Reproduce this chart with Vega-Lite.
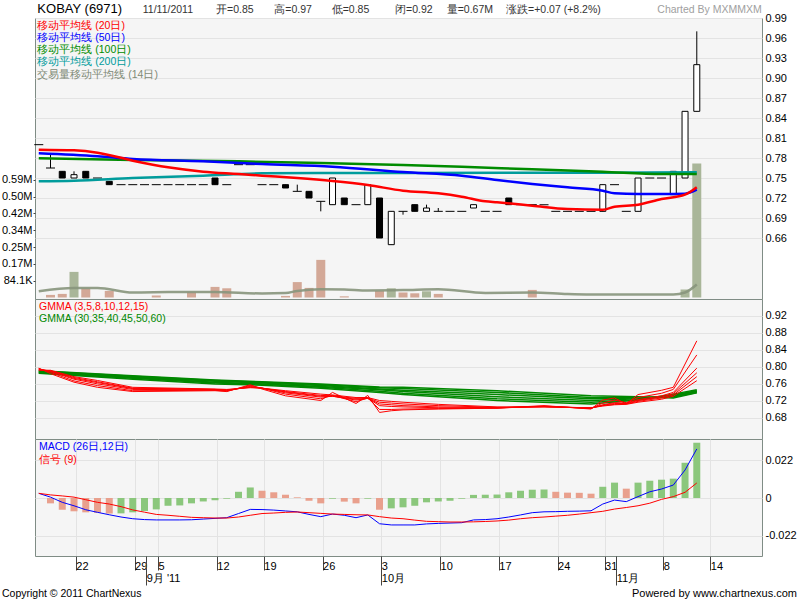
{
"$schema": "https://vega.github.io/schema/vega-lite/v6.json",
"background": "#ffffff",
"padding": {"left": 0, "top": 2, "right": 0, "bottom": 2},
"config": {
 "view": {"stroke": "#7f8c85", "strokeWidth": 1, "fill": "#f5f5f5"},
 "axis": {"gridColor": "#e3e3e3", "labelFont": "Liberation Sans", "labelFontSize": 11, "labelColor": "#000000", "tickColor": "#444444", "domain": false, "labelFlush": false, "labelOverlap": false},
 "scale": {"continuousPadding": 0},
 "text": {"font": "Liberation Sans"}
},
"spacing": 0,
"bounds": "flush",
"resolve": {"scale": {"x": "independent", "y": "independent"}},
"datasets": {
 "k": [
  {"i":-1,"o":0.80,"h":0.80,"l":0.80,"c":0.80,"v":0},
  {"i":0,"o":0.765,"h":0.785,"l":0.765,"c":0.765,"v":13000},
  {"i":1,"o":0.76,"h":0.76,"l":0.75,"c":0.75,"v":18000},
  {"i":2,"o":0.75,"h":0.76,"l":0.75,"c":0.755,"v":128000},
  {"i":3,"o":0.76,"h":0.76,"l":0.75,"c":0.75,"v":46000},
  {"i":4,"o":0.75,"h":0.75,"l":0.75,"c":0.75,"v":0},
  {"i":5,"o":0.745,"h":0.745,"l":0.74,"c":0.74,"v":33000},
  {"i":6,"o":0.74,"h":0.74,"l":0.74,"c":0.74,"v":0},
  {"i":7,"o":0.74,"h":0.74,"l":0.74,"c":0.74,"v":0},
  {"i":8,"o":0.74,"h":0.74,"l":0.74,"c":0.74,"v":0},
  {"i":9,"o":0.74,"h":0.74,"l":0.74,"c":0.74,"v":10000},
  {"i":10,"o":0.74,"h":0.74,"l":0.74,"c":0.74,"v":0},
  {"i":11,"o":0.74,"h":0.74,"l":0.74,"c":0.74,"v":0},
  {"i":12,"o":0.74,"h":0.74,"l":0.74,"c":0.74,"v":26000},
  {"i":13,"o":0.74,"h":0.74,"l":0.74,"c":0.74,"v":0},
  {"i":14,"o":0.75,"h":0.75,"l":0.74,"c":0.74,"v":53000},
  {"i":15,"o":0.74,"h":0.74,"l":0.74,"c":0.74,"v":46000},
  {"i":16,"o":0.77,"h":0.77,"l":0.77,"c":0.77,"v":0},
  {"i":17,"o":0.77,"h":0.77,"l":0.77,"c":0.77,"v":0},
  {"i":18,"o":0.74,"h":0.74,"l":0.74,"c":0.74,"v":0},
  {"i":19,"o":0.74,"h":0.74,"l":0.74,"c":0.74,"v":0},
  {"i":20,"o":0.74,"h":0.74,"l":0.735,"c":0.735,"v":8000},
  {"i":21,"o":0.73,"h":0.74,"l":0.73,"c":0.73,"v":77000},
  {"i":22,"o":0.73,"h":0.73,"l":0.72,"c":0.72,"v":48000},
  {"i":23,"o":0.715,"h":0.715,"l":0.70,"c":0.715,"v":188000},
  {"i":24,"o":0.71,"h":0.75,"l":0.71,"c":0.75,"v":0},
  {"i":25,"o":0.72,"h":0.72,"l":0.71,"c":0.71,"v":6000},
  {"i":26,"o":0.71,"h":0.71,"l":0.71,"c":0.71,"v":0},
  {"i":27,"o":0.71,"h":0.74,"l":0.71,"c":0.74,"v":0},
  {"i":28,"o":0.72,"h":0.72,"l":0.66,"c":0.66,"v":33000},
  {"i":29,"o":0.65,"h":0.70,"l":0.65,"c":0.70,"v":46000},
  {"i":30,"o":0.70,"h":0.70,"l":0.695,"c":0.70,"v":25000},
  {"i":31,"o":0.71,"h":0.71,"l":0.70,"c":0.70,"v":21000},
  {"i":32,"o":0.70,"h":0.71,"l":0.70,"c":0.705,"v":31000},
  {"i":33,"o":0.70,"h":0.705,"l":0.70,"c":0.70,"v":18000},
  {"i":34,"o":0.70,"h":0.70,"l":0.70,"c":0.70,"v":0},
  {"i":35,"o":0.70,"h":0.70,"l":0.70,"c":0.70,"v":0},
  {"i":36,"o":0.705,"h":0.71,"l":0.705,"c":0.71,"v":0},
  {"i":37,"o":0.70,"h":0.70,"l":0.70,"c":0.70,"v":0},
  {"i":38,"o":0.70,"h":0.70,"l":0.70,"c":0.70,"v":0},
  {"i":39,"o":0.72,"h":0.72,"l":0.71,"c":0.71,"v":0},
  {"i":40,"o":0.71,"h":0.71,"l":0.71,"c":0.71,"v":0},
  {"i":41,"o":0.71,"h":0.71,"l":0.71,"c":0.71,"v":38000},
  {"i":42,"o":0.71,"h":0.71,"l":0.71,"c":0.71,"v":0},
  {"i":43,"o":0.70,"h":0.70,"l":0.70,"c":0.70,"v":0},
  {"i":44,"o":0.70,"h":0.70,"l":0.70,"c":0.70,"v":0},
  {"i":45,"o":0.70,"h":0.70,"l":0.70,"c":0.70,"v":0},
  {"i":46,"o":0.70,"h":0.70,"l":0.70,"c":0.70,"v":0},
  {"i":47,"o":0.70,"h":0.74,"l":0.70,"c":0.74,"v":0},
  {"i":48,"o":0.74,"h":0.74,"l":0.74,"c":0.74,"v":0},
  {"i":49,"o":0.70,"h":0.70,"l":0.70,"c":0.70,"v":0},
  {"i":50,"o":0.70,"h":0.75,"l":0.70,"c":0.75,"v":0},
  {"i":51,"o":0.75,"h":0.75,"l":0.75,"c":0.75,"v":0},
  {"i":52,"o":0.75,"h":0.75,"l":0.75,"c":0.75,"v":0},
  {"i":53,"o":0.725,"h":0.76,"l":0.725,"c":0.76,"v":0},
  {"i":54,"o":0.75,"h":0.85,"l":0.75,"c":0.85,"v":40000},
  {"i":55,"o":0.85,"h":0.97,"l":0.85,"c":0.92,"v":670000}
 ],
 "vma": [
  {"i":-1,"v":31500},{"i":2,"v":48000},{"i":4,"v":48000},{"i":7,"v":25000},{"i":10,"v":27000},
  {"i":14,"v":28000},{"i":18,"v":20000},{"i":20,"v":22000},{"i":21,"v":33000},{"i":23,"v":41500},
  {"i":25,"v":40000},{"i":27,"v":35000},{"i":30,"v":37000},{"i":33,"v":41500},{"i":37,"v":23000},
  {"i":41,"v":25000},{"i":44,"v":17000},{"i":46,"v":15000},{"i":53,"v":15000},{"i":54,"v":25000},{"i":55,"v":65000}
 ],
 "ma": [
  {"s":"MA200","i":-1,"v":0.745},{"s":"MA200","i":2,"v":0.746},{"s":"MA200","i":7,"v":0.75},{"s":"MA200","i":13,"v":0.7535},{"s":"MA200","i":18,"v":0.757},{"s":"MA200","i":24,"v":0.7575},{"s":"MA200","i":30,"v":0.7575},{"s":"MA200","i":55,"v":0.7585},
  {"s":"MA100","i":-1,"v":0.7795},{"s":"MA100","i":7,"v":0.777},{"s":"MA100","i":16,"v":0.775},{"s":"MA100","i":24,"v":0.772},{"s":"MA100","i":30,"v":0.7695},{"s":"MA100","i":35,"v":0.767},{"s":"MA100","i":41,"v":0.763},{"s":"MA100","i":47,"v":0.7595},{"s":"MA100","i":52,"v":0.756},{"s":"MA100","i":55,"v":0.756},
  {"s":"MA50","i":-1,"v":0.787},{"s":"MA50","i":4,"v":0.7825},{"s":"MA50","i":7,"v":0.7785},{"s":"MA50","i":13,"v":0.775},{"s":"MA50","i":18,"v":0.771},{"s":"MA50","i":24,"v":0.767},{"s":"MA50","i":30,"v":0.759},{"s":"MA50","i":35,"v":0.7535},{"s":"MA50","i":38,"v":0.747},{"s":"MA50","i":41,"v":0.741},{"s":"MA50","i":44,"v":0.736},{"s":"MA50","i":47,"v":0.731},{"s":"MA50","i":48,"v":0.727},{"s":"MA50","i":50,"v":0.726},{"s":"MA50","i":52,"v":0.726},{"s":"MA50","i":54,"v":0.7265},{"s":"MA50","i":55,"v":0.7325},
  {"s":"MA20","i":-1,"v":0.7925},{"s":"MA20","i":2,"v":0.7915},{"s":"MA20","i":4,"v":0.788},{"s":"MA20","i":7,"v":0.776},{"s":"MA20","i":10,"v":0.766},{"s":"MA20","i":13,"v":0.7595},{"s":"MA20","i":16,"v":0.756},{"s":"MA20","i":18,"v":0.7535},{"s":"MA20","i":21,"v":0.75},{"s":"MA20","i":24,"v":0.7455},{"s":"MA20","i":27,"v":0.7395},{"s":"MA20","i":30,"v":0.731},{"s":"MA20","i":33,"v":0.727},{"s":"MA20","i":35,"v":0.722},{"s":"MA20","i":37,"v":0.715},{"s":"MA20","i":38,"v":0.7135},{"s":"MA20","i":41,"v":0.7085},{"s":"MA20","i":44,"v":0.7035},{"s":"MA20","i":47,"v":0.7025},{"s":"MA20","i":48,"v":0.707},{"s":"MA20","i":50,"v":0.71},{"s":"MA20","i":52,"v":0.7185},{"s":"MA20","i":54,"v":0.725},{"s":"MA20","i":55,"v":0.736}
 ],
 "gs": [
  {"i":-1,"e3":0.797,"e5":0.796,"e8":0.795,"e10":0.794,"e12":0.793,"e15":0.792},
  {"i":0,"e3":0.784,"e5":0.787,"e8":0.789,"e10":0.790,"e12":0.791,"e15":0.792},
  {"i":2,"e3":0.764,"e5":0.767,"e8":0.771,"e10":0.773,"e12":0.775,"e15":0.777},
  {"i":4,"e3":0.752,"e5":0.756,"e8":0.760,"e10":0.763,"e12":0.765,"e15":0.768},
  {"i":7,"e3":0.742,"e5":0.744,"e8":0.747,"e10":0.749,"e12":0.750,"e15":0.752},
  {"i":14,"e3":0.744,"e5":0.745,"e8":0.746,"e10":0.747,"e12":0.747,"e15":0.748},
  {"i":15,"e3":0.742,"e5":0.743,"e8":0.744,"e10":0.745,"e12":0.746,"e15":0.747},
  {"i":17,"e3":0.758,"e5":0.756,"e8":0.754,"e10":0.753,"e12":0.752,"e15":0.751},
  {"i":18,"e3":0.748,"e5":0.750,"e8":0.750,"e10":0.750,"e12":0.750,"e15":0.750},
  {"i":20,"e3":0.732,"e5":0.736,"e8":0.739,"e10":0.741,"e12":0.742,"e15":0.744},
  {"i":23,"e3":0.721,"e5":0.725,"e8":0.729,"e10":0.731,"e12":0.733,"e15":0.736},
  {"i":24,"e3":0.740,"e5":0.733,"e8":0.731,"e10":0.731,"e12":0.732,"e15":0.734},
  {"i":26,"e3":0.714,"e5":0.718,"e8":0.722,"e10":0.724,"e12":0.726,"e15":0.728},
  {"i":27,"e3":0.733,"e5":0.727,"e8":0.726,"e10":0.726,"e12":0.727,"e15":0.728},
  {"i":28,"e3":0.693,"e5":0.700,"e8":0.709,"e10":0.713,"e12":0.717,"e15":0.721},
  {"i":29,"e3":0.697,"e5":0.700,"e8":0.707,"e10":0.711,"e12":0.715,"e15":0.719},
  {"i":30,"e3":0.699,"e5":0.701,"e8":0.706,"e10":0.709,"e12":0.713,"e15":0.717},
  {"i":33,"e3":0.701,"e5":0.702,"e8":0.704,"e10":0.706,"e12":0.709,"e15":0.712},
  {"i":38,"e3":0.703,"e5":0.703,"e8":0.704,"e10":0.704,"e12":0.705,"e15":0.706},
  {"i":42,"e3":0.709,"e5":0.708,"e8":0.707,"e10":0.707,"e12":0.706,"e15":0.706},
  {"i":46,"e3":0.701,"e5":0.702,"e8":0.703,"e10":0.703,"e12":0.704,"e15":0.704},
  {"i":47,"e3":0.722,"e5":0.715,"e8":0.711,"e10":0.710,"e12":0.709,"e15":0.708},
  {"i":48,"e3":0.727,"e5":0.722,"e8":0.716,"e10":0.714,"e12":0.712,"e15":0.711},
  {"i":49,"e3":0.713,"e5":0.716,"e8":0.715,"e10":0.714,"e12":0.713,"e15":0.712},
  {"i":50,"e3":0.735,"e5":0.728,"e8":0.723,"e10":0.721,"e12":0.719,"e15":0.717},
  {"i":52,"e3":0.745,"e5":0.738,"e8":0.732,"e10":0.729,"e12":0.727,"e15":0.724},
  {"i":53,"e3":0.752,"e5":0.747,"e8":0.740,"e10":0.737,"e12":0.734,"e15":0.731},
  {"i":55,"e3":0.861,"e5":0.828,"e8":0.797,"e10":0.786,"e12":0.777,"e15":0.7675}
 ],
 "gl": [
  {"i":-1,"e30":0.785,"e35":0.786,"e40":0.787,"e45":0.789,"e50":0.790,"e60":0.791},
  {"i":7,"e30":0.771,"e35":0.773,"e40":0.775,"e45":0.776,"e50":0.778,"e60":0.779},
  {"i":14,"e30":0.760,"e35":0.762,"e40":0.764,"e45":0.766,"e50":0.768,"e60":0.769},
  {"i":18,"e30":0.757,"e35":0.759,"e40":0.760,"e45":0.762,"e50":0.764,"e60":0.765},
  {"i":23,"e30":0.750,"e35":0.752,"e40":0.754,"e45":0.756,"e50":0.758,"e60":0.760},
  {"i":28,"e30":0.740,"e35":0.743,"e40":0.746,"e45":0.748,"e50":0.751,"e60":0.753},
  {"i":30,"e30":0.735,"e35":0.738,"e40":0.742,"e45":0.745,"e50":0.749,"e60":0.752},
  {"i":38,"e30":0.721,"e35":0.725,"e40":0.730,"e45":0.735,"e50":0.740,"e60":0.744},
  {"i":46,"e30":0.713,"e35":0.717,"e40":0.721,"e45":0.725,"e50":0.728,"e60":0.732},
  {"i":50,"e30":0.722,"e35":0.723,"e40":0.725,"e45":0.727,"e50":0.728,"e60":0.730},
  {"i":53,"e30":0.736,"e35":0.734,"e40":0.732,"e45":0.731,"e50":0.729,"e60":0.727},
  {"i":55,"e30":0.746,"e35":0.744,"e40":0.743,"e45":0.742,"e50":0.740,"e60":0.739}
 ],
 "md": [
  {"i":-1,"m":0.0027,"s":0.0027},
  {"i":0,"m":0.0005,"s":0.0018,"h":-0.0031},
  {"i":1,"m":-0.0025,"s":0.0012,"h":-0.0068},
  {"i":2,"m":-0.0045,"s":0.0005,"h":-0.0077},
  {"i":3,"m":-0.0068,"s":-0.0010,"h":-0.0083},
  {"i":4,"m":-0.0083,"s":-0.0025,"h":-0.0086},
  {"i":5,"m":-0.0097,"s":-0.0035,"h":-0.0090},
  {"i":6,"m":-0.0110,"s":-0.0050,"h":-0.0089},
  {"i":7,"m":-0.0120,"s":-0.0069,"h":-0.0083},
  {"i":8,"m":-0.0125,"s":-0.0082,"h":-0.0075},
  {"i":9,"m":-0.0127,"s":-0.0095,"h":-0.0066},
  {"i":10,"m":-0.0127,"s":-0.0100,"h":-0.0045},
  {"i":11,"m":-0.0127,"s":-0.0106,"h":-0.0043},
  {"i":12,"m":-0.0126,"s":-0.0112,"h":-0.0031},
  {"i":13,"m":-0.0122,"s":-0.0114,"h":-0.0020},
  {"i":14,"m":-0.0118,"s":-0.0116,"h":-0.0013},
  {"i":15,"m":-0.0114,"s":-0.0116,"h":-0.0004},
  {"i":16,"m":-0.0090,"s":-0.0110,"h":0.0036},
  {"i":17,"m":-0.0066,"s":-0.0100,"h":0.0061},
  {"i":18,"m":-0.0067,"s":-0.0090,"h":0.0042},
  {"i":19,"m":-0.0070,"s":-0.0087,"h":0.0033},
  {"i":20,"m":-0.0075,"s":-0.0083,"h":0.0019},
  {"i":21,"m":-0.0080,"s":-0.0081,"h":0.0004},
  {"i":22,"m":-0.0095,"s":-0.0085,"h":-0.0016},
  {"i":23,"m":-0.0108,"s":-0.0089,"h":-0.0031},
  {"i":24,"m":-0.0093,"s":-0.0093,"h":-0.0004},
  {"i":25,"m":-0.0100,"s":-0.0095,"h":-0.0021},
  {"i":26,"m":-0.0114,"s":-0.0097,"h":-0.0031},
  {"i":27,"m":-0.0098,"s":-0.0098,"h":-0.0004},
  {"i":28,"m":-0.0149,"s":-0.0108,"h":-0.0068},
  {"i":29,"m":-0.0156,"s":-0.0116,"h":-0.0060},
  {"i":30,"m":-0.0156,"s":-0.0120,"h":-0.0054},
  {"i":31,"m":-0.0156,"s":-0.0128,"h":-0.0045},
  {"i":32,"m":-0.0150,"s":-0.0135,"h":-0.0025},
  {"i":33,"m":-0.0147,"s":-0.0137,"h":-0.0020},
  {"i":34,"m":-0.0145,"s":-0.0139,"h":-0.0016},
  {"i":35,"m":-0.0143,"s":-0.0139,"h":-0.0004},
  {"i":36,"m":-0.0127,"s":-0.0138,"h":0.0018},
  {"i":37,"m":-0.0125,"s":-0.0136,"h":0.0019},
  {"i":38,"m":-0.0120,"s":-0.0133,"h":0.0020},
  {"i":39,"m":-0.0110,"s":-0.0128,"h":0.0033},
  {"i":40,"m":-0.0098,"s":-0.0120,"h":0.0042},
  {"i":41,"m":-0.0085,"s":-0.0114,"h":0.0048},
  {"i":42,"m":-0.0080,"s":-0.0110,"h":0.0049},
  {"i":43,"m":-0.0079,"s":-0.0105,"h":0.0036},
  {"i":44,"m":-0.0077,"s":-0.0100,"h":0.0031},
  {"i":45,"m":-0.0076,"s":-0.0093,"h":0.0030},
  {"i":46,"m":-0.0074,"s":-0.0085,"h":0.0025},
  {"i":47,"m":-0.0035,"s":-0.0077,"h":0.0065},
  {"i":48,"m":-0.0012,"s":-0.0064,"h":0.0089},
  {"i":49,"m":-0.0021,"s":-0.0055,"h":0.0054},
  {"i":50,"m":0.0008,"s":-0.0045,"h":0.0089},
  {"i":51,"m":0.0036,"s":-0.0030,"h":0.0100},
  {"i":52,"m":0.0052,"s":-0.0008,"h":0.0106},
  {"i":53,"m":0.0075,"s":0.0008,"h":0.0112},
  {"i":54,"m":0.0162,"s":0.0033,"h":0.0204},
  {"i":55,"m":0.0284,"s":0.0087,"h":0.0320}
 ]
},
"vconcat": [
 {
  "width": 727, "height": 281,
  "resolve": {"scale": {"y": "independent"}},
  "layer": [
   {"layer": [
    {"data": {"name": "k"}, "mark": {"type": "bar", "size": 9, "orient": "vertical"},
     "encoding": {
      "x": {"field": "i", "type": "quantitative", "scale": {"domain": [-1.32, 60.55], "nice": false, "zero": false, "padding": 0}, "axis": {"values": [2.15,7.15,9.15,14.15,18.15,23.15,28.15,33.15,38.15,43.15,47.15,52.15,56.15], "grid": true, "labels": false, "ticks": false, "domain": false, "title": null}},
      "y": {"field": "v", "type": "quantitative", "scale": {"domain": [-7500, 1396700], "nice": false}, "axis": {"orient": "left", "values": [84100,168200,252300,336400,420500,504600,588700], "labelExpr": "datum.value < 100000 ? '84.1K' : format(datum.value / 1000000, '.2f') + 'M'", "grid": false, "tickSize": 2, "labelPadding": 1, "title": null}},
      "color": {"condition": {"test": "datum.c > datum.o", "value": "#a9b699"}, "value": "#d3a897"}}},
    {"data": {"name": "vma"}, "mark": {"type": "line", "interpolate": "monotone", "color": "#87957c", "strokeWidth": 2.5, "opacity": 0.9},
     "encoding": {
      "x": {"field": "i", "type": "quantitative", "scale": {"domain": [-1.32, 60.55], "nice": false, "zero": false, "padding": 0}, "axis": null},
      "y": {"field": "v", "type": "quantitative", "scale": {"domain": [-7500, 1396700], "nice": false}, "axis": {"orient": "left", "values": [84100,168200,252300,336400,420500,504600,588700], "labelExpr": "datum.value < 100000 ? '84.1K' : format(datum.value / 1000000, '.2f') + 'M'", "grid": false, "tickSize": 2, "labelPadding": 1, "title": null}}}}
   ]},
   {"layer": [
    {"data": {"name": "k"}, "transform": [{"filter": "datum.h > datum.l"}], "mark": {"type": "rule", "color": "#000000", "strokeWidth": 1},
     "encoding": {
      "x": {"field": "i", "type": "quantitative", "scale": {"domain": [-1.32, 60.55], "nice": false, "zero": false, "padding": 0}, "axis": null},
      "y": {"field": "l", "type": "quantitative", "scale": {"domain": [0.5685, 0.99], "nice": false, "zero": false, "padding": 0}, "axis": {"orient": "right", "values": [0.66,0.69,0.72,0.75,0.78,0.81,0.84,0.87,0.90,0.93,0.96,0.99], "format": ".2f", "grid": true, "ticks": false, "labelPadding": 3, "title": null}},
      "y2": {"field": "h"}}},
    {"data": {"name": "k"}, "transform": [{"filter": "datum.o != datum.c"}], "mark": {"type": "bar", "size": 6, "orient": "vertical", "stroke": "#000000", "strokeWidth": 1},
     "encoding": {
      "x": {"field": "i", "type": "quantitative", "scale": {"domain": [-1.32, 60.55], "nice": false, "zero": false, "padding": 0}, "axis": null},
      "y": {"field": "o", "type": "quantitative", "scale": {"domain": [0.5685, 0.99], "nice": false, "zero": false, "padding": 0}, "axis": {"orient": "right", "values": [0.66,0.69,0.72,0.75,0.78,0.81,0.84,0.87,0.90,0.93,0.96,0.99], "format": ".2f", "grid": true, "ticks": false, "labelPadding": 3, "title": null}},
      "y2": {"field": "c"},
      "fill": {"condition": {"test": "datum.c > datum.o", "value": "#ffffff"}, "value": "#000000"}}},
    {"data": {"name": "k"}, "transform": [{"filter": "datum.o == datum.c"}], "mark": {"type": "tick", "orient": "horizontal", "size": 9, "thickness": 1, "color": "#000000", "opacity": 1},
     "encoding": {
      "x": {"field": "i", "type": "quantitative", "scale": {"domain": [-1.32, 60.55], "nice": false, "zero": false, "padding": 0}, "axis": null},
      "y": {"field": "c", "type": "quantitative", "scale": {"domain": [0.5685, 0.99], "nice": false, "zero": false, "padding": 0}, "axis": {"orient": "right", "values": [0.66,0.69,0.72,0.75,0.78,0.81,0.84,0.87,0.90,0.93,0.96,0.99], "format": ".2f", "grid": true, "ticks": false, "labelPadding": 3, "title": null}}}},
    {"data": {"name": "ma"}, "mark": {"type": "line", "interpolate": "monotone", "strokeWidth": 2.5},
     "encoding": {
      "x": {"field": "i", "type": "quantitative", "scale": {"domain": [-1.32, 60.55], "nice": false, "zero": false, "padding": 0}, "axis": null},
      "y": {"field": "v", "type": "quantitative", "scale": {"domain": [0.5685, 0.99], "nice": false, "zero": false, "padding": 0}, "axis": {"orient": "right", "values": [0.66,0.69,0.72,0.75,0.78,0.81,0.84,0.87,0.90,0.93,0.96,0.99], "format": ".2f", "grid": true, "ticks": false, "labelPadding": 3, "title": null}},
      "stroke": {"field": "s", "type": "nominal", "scale": {"domain": ["MA200","MA100","MA50","MA20"], "range": ["#009c9c","#008c00","#0000ff","#ff0000"]}, "legend": null}}},
    {"data": {"values": [{}]}, "mark": {"type": "text", "fontSize": 13, "color": "#000000", "align": "left", "baseline": "middle"},
     "encoding": {"x": {"datum": -1.12, "type": "quantitative", "scale": {"domain": [-1.32, 60.55], "nice": false, "zero": false, "padding": 0}, "axis": null}, "y": {"datum": 1.0035, "type": "quantitative", "scale": {"domain": [0.5685, 0.99], "nice": false, "zero": false, "padding": 0}, "axis": {"orient": "right", "values": [0.66,0.69,0.72,0.75,0.78,0.81,0.84,0.87,0.90,0.93,0.96,0.99], "format": ".2f", "grid": true, "ticks": false, "labelPadding": 3, "title": null}}, "text": {"value": "KOBAY (6971)"}}},
    {"data": {"values": [{}]}, "mark": {"type": "text", "fontSize": 10.5, "color": "#333333", "align": "left", "baseline": "middle"},
     "encoding": {"x": {"datum": 7.85, "type": "quantitative", "scale": {"domain": [-1.32, 60.55], "nice": false, "zero": false, "padding": 0}, "axis": null}, "y": {"datum": 1.0025, "type": "quantitative", "scale": {"domain": [0.5685, 0.99], "nice": false, "zero": false, "padding": 0}, "axis": {"orient": "right", "values": [0.66,0.69,0.72,0.75,0.78,0.81,0.84,0.87,0.90,0.93,0.96,0.99], "format": ".2f", "grid": true, "ticks": false, "labelPadding": 3, "title": null}}, "text": {"value": "11/11/2011"}}},
    {"data": {"values": [{}]}, "mark": {"type": "text", "fontSize": 10.5, "color": "#333333", "align": "left", "baseline": "middle"},
     "encoding": {"x": {"datum": 14.09, "type": "quantitative", "scale": {"domain": [-1.32, 60.55], "nice": false, "zero": false, "padding": 0}, "axis": null}, "y": {"datum": 1.0025, "type": "quantitative", "scale": {"domain": [0.5685, 0.99], "nice": false, "zero": false, "padding": 0}, "axis": {"orient": "right", "values": [0.66,0.69,0.72,0.75,0.78,0.81,0.84,0.87,0.90,0.93,0.96,0.99], "format": ".2f", "grid": true, "ticks": false, "labelPadding": 3, "title": null}}, "text": {"value": "开=0.85"}}},
    {"data": {"values": [{}]}, "mark": {"type": "text", "fontSize": 10.5, "color": "#333333", "align": "left", "baseline": "middle"},
     "encoding": {"x": {"datum": 19.05, "type": "quantitative", "scale": {"domain": [-1.32, 60.55], "nice": false, "zero": false, "padding": 0}, "axis": null}, "y": {"datum": 1.0025, "type": "quantitative", "scale": {"domain": [0.5685, 0.99], "nice": false, "zero": false, "padding": 0}, "axis": {"orient": "right", "values": [0.66,0.69,0.72,0.75,0.78,0.81,0.84,0.87,0.90,0.93,0.96,0.99], "format": ".2f", "grid": true, "ticks": false, "labelPadding": 3, "title": null}}, "text": {"value": "高=0.97"}}},
    {"data": {"values": [{}]}, "mark": {"type": "text", "fontSize": 10.5, "color": "#333333", "align": "left", "baseline": "middle"},
     "encoding": {"x": {"datum": 23.93, "type": "quantitative", "scale": {"domain": [-1.32, 60.55], "nice": false, "zero": false, "padding": 0}, "axis": null}, "y": {"datum": 1.0025, "type": "quantitative", "scale": {"domain": [0.5685, 0.99], "nice": false, "zero": false, "padding": 0}, "axis": {"orient": "right", "values": [0.66,0.69,0.72,0.75,0.78,0.81,0.84,0.87,0.90,0.93,0.96,0.99], "format": ".2f", "grid": true, "ticks": false, "labelPadding": 3, "title": null}}, "text": {"value": "低=0.85"}}},
    {"data": {"values": [{}]}, "mark": {"type": "text", "fontSize": 10.5, "color": "#333333", "align": "left", "baseline": "middle"},
     "encoding": {"x": {"datum": 29.32, "type": "quantitative", "scale": {"domain": [-1.32, 60.55], "nice": false, "zero": false, "padding": 0}, "axis": null}, "y": {"datum": 1.0025, "type": "quantitative", "scale": {"domain": [0.5685, 0.99], "nice": false, "zero": false, "padding": 0}, "axis": {"orient": "right", "values": [0.66,0.69,0.72,0.75,0.78,0.81,0.84,0.87,0.90,0.93,0.96,0.99], "format": ".2f", "grid": true, "ticks": false, "labelPadding": 3, "title": null}}, "text": {"value": "闭=0.92"}}},
    {"data": {"values": [{}]}, "mark": {"type": "text", "fontSize": 10.5, "color": "#333333", "align": "left", "baseline": "middle"},
     "encoding": {"x": {"datum": 33.72, "type": "quantitative", "scale": {"domain": [-1.32, 60.55], "nice": false, "zero": false, "padding": 0}, "axis": null}, "y": {"datum": 1.0025, "type": "quantitative", "scale": {"domain": [0.5685, 0.99], "nice": false, "zero": false, "padding": 0}, "axis": {"orient": "right", "values": [0.66,0.69,0.72,0.75,0.78,0.81,0.84,0.87,0.90,0.93,0.96,0.99], "format": ".2f", "grid": true, "ticks": false, "labelPadding": 3, "title": null}}, "text": {"value": "量=0.67M"}}},
    {"data": {"values": [{}]}, "mark": {"type": "text", "fontSize": 10.5, "color": "#333333", "align": "left", "baseline": "middle"},
     "encoding": {"x": {"datum": 38.77, "type": "quantitative", "scale": {"domain": [-1.32, 60.55], "nice": false, "zero": false, "padding": 0}, "axis": null}, "y": {"datum": 1.0025, "type": "quantitative", "scale": {"domain": [0.5685, 0.99], "nice": false, "zero": false, "padding": 0}, "axis": {"orient": "right", "values": [0.66,0.69,0.72,0.75,0.78,0.81,0.84,0.87,0.90,0.93,0.96,0.99], "format": ".2f", "grid": true, "ticks": false, "labelPadding": 3, "title": null}}, "text": {"value": "涨跌=+0.07 (+8.2%)"}}},
    {"data": {"values": [{}]}, "mark": {"type": "text", "fontSize": 10.5, "color": "#a0a0a0", "align": "right", "baseline": "middle"},
     "encoding": {"x": {"datum": 60.53, "type": "quantitative", "scale": {"domain": [-1.32, 60.55], "nice": false, "zero": false, "padding": 0}, "axis": null}, "y": {"datum": 1.0025, "type": "quantitative", "scale": {"domain": [0.5685, 0.99], "nice": false, "zero": false, "padding": 0}, "axis": {"orient": "right", "values": [0.66,0.69,0.72,0.75,0.78,0.81,0.84,0.87,0.90,0.93,0.96,0.99], "format": ".2f", "grid": true, "ticks": false, "labelPadding": 3, "title": null}}, "text": {"value": "Charted By MXMMXM"}}},
    {"data": {"values": [{}]}, "mark": {"type": "text", "fontSize": 10.5, "color": "#ff0000", "align": "left", "baseline": "middle"},
     "encoding": {"x": {"datum": -1.12, "type": "quantitative", "scale": {"domain": [-1.32, 60.55], "nice": false, "zero": false, "padding": 0}, "axis": null}, "y": {"datum": 0.97845, "type": "quantitative", "scale": {"domain": [0.5685, 0.99], "nice": false, "zero": false, "padding": 0}, "axis": {"orient": "right", "values": [0.66,0.69,0.72,0.75,0.78,0.81,0.84,0.87,0.90,0.93,0.96,0.99], "format": ".2f", "grid": true, "ticks": false, "labelPadding": 3, "title": null}}, "text": {"value": "移动平均线 (20日)"}}},
    {"data": {"values": [{}]}, "mark": {"type": "text", "fontSize": 10.5, "color": "#0000ff", "align": "left", "baseline": "middle"},
     "encoding": {"x": {"datum": -1.12, "type": "quantitative", "scale": {"domain": [-1.32, 60.55], "nice": false, "zero": false, "padding": 0}, "axis": null}, "y": {"datum": 0.96015, "type": "quantitative", "scale": {"domain": [0.5685, 0.99], "nice": false, "zero": false, "padding": 0}, "axis": {"orient": "right", "values": [0.66,0.69,0.72,0.75,0.78,0.81,0.84,0.87,0.90,0.93,0.96,0.99], "format": ".2f", "grid": true, "ticks": false, "labelPadding": 3, "title": null}}, "text": {"value": "移动平均线 (50日)"}}},
    {"data": {"values": [{}]}, "mark": {"type": "text", "fontSize": 10.5, "color": "#008c00", "align": "left", "baseline": "middle"},
     "encoding": {"x": {"datum": -1.12, "type": "quantitative", "scale": {"domain": [-1.32, 60.55], "nice": false, "zero": false, "padding": 0}, "axis": null}, "y": {"datum": 0.9417, "type": "quantitative", "scale": {"domain": [0.5685, 0.99], "nice": false, "zero": false, "padding": 0}, "axis": {"orient": "right", "values": [0.66,0.69,0.72,0.75,0.78,0.81,0.84,0.87,0.90,0.93,0.96,0.99], "format": ".2f", "grid": true, "ticks": false, "labelPadding": 3, "title": null}}, "text": {"value": "移动平均线 (100日)"}}},
    {"data": {"values": [{}]}, "mark": {"type": "text", "fontSize": 10.5, "color": "#009c9c", "align": "left", "baseline": "middle"},
     "encoding": {"x": {"datum": -1.12, "type": "quantitative", "scale": {"domain": [-1.32, 60.55], "nice": false, "zero": false, "padding": 0}, "axis": null}, "y": {"datum": 0.9234, "type": "quantitative", "scale": {"domain": [0.5685, 0.99], "nice": false, "zero": false, "padding": 0}, "axis": {"orient": "right", "values": [0.66,0.69,0.72,0.75,0.78,0.81,0.84,0.87,0.90,0.93,0.96,0.99], "format": ".2f", "grid": true, "ticks": false, "labelPadding": 3, "title": null}}, "text": {"value": "移动平均线 (200日)"}}},
    {"data": {"values": [{}]}, "mark": {"type": "text", "fontSize": 10.5, "color": "#7e8a76", "align": "left", "baseline": "middle"},
     "encoding": {"x": {"datum": -1.12, "type": "quantitative", "scale": {"domain": [-1.32, 60.55], "nice": false, "zero": false, "padding": 0}, "axis": null}, "y": {"datum": 0.90495, "type": "quantitative", "scale": {"domain": [0.5685, 0.99], "nice": false, "zero": false, "padding": 0}, "axis": {"orient": "right", "values": [0.66,0.69,0.72,0.75,0.78,0.81,0.84,0.87,0.90,0.93,0.96,0.99], "format": ".2f", "grid": true, "ticks": false, "labelPadding": 3, "title": null}}, "text": {"value": "交易量移动平均线 (14日)"}}}
   ]}
  ]
 },
 {
  "width": 727, "height": 140,
  "layer": [
   {"data": {"name": "gl"}, "transform": [{"fold": ["e30","e35","e40","e45","e50","e60"], "as": ["s","v"]}], "mark": {"type": "line", "color": "#008800", "strokeWidth": 1.5},
    "encoding": {
     "x": {"field": "i", "type": "quantitative", "scale": {"domain": [-1.32, 60.55], "nice": false, "zero": false, "padding": 0}, "axis": {"values": [2.15,7.15,9.15,14.15,18.15,23.15,28.15,33.15,38.15,43.15,47.15,52.15,56.15], "grid": true, "labels": false, "ticks": false, "domain": false, "title": null}},
     "y": {"field": "v", "type": "quantitative", "scale": {"domain": [0.6307, 0.9592], "nice": false, "zero": false}, "axis": {"orient": "right", "values": [0.68,0.72,0.76,0.80,0.84,0.88,0.92], "format": ".2f", "grid": true, "ticks": false, "labelPadding": 3, "title": null}},
     "detail": {"field": "s", "type": "nominal"}}},
   {"data": {"name": "gs"}, "transform": [{"fold": ["e3","e5","e8","e10","e12","e15"], "as": ["s","v"]}], "mark": {"type": "line", "color": "#ff0000", "strokeWidth": 1},
    "encoding": {
     "x": {"field": "i", "type": "quantitative", "scale": {"domain": [-1.32, 60.55], "nice": false, "zero": false, "padding": 0}, "axis": null},
     "y": {"field": "v", "type": "quantitative", "scale": {"domain": [0.6307, 0.9592], "nice": false, "zero": false}, "axis": {"orient": "right", "values": [0.68,0.72,0.76,0.80,0.84,0.88,0.92], "format": ".2f", "grid": true, "ticks": false, "labelPadding": 3, "title": null}},
     "detail": {"field": "s", "type": "nominal"}}},
   {"data": {"values": [{}]}, "mark": {"type": "text", "fontSize": 10.5, "color": "#ff0000", "align": "left", "baseline": "middle"},
    "encoding": {"x": {"datum": -0.98, "type": "quantitative", "scale": {"domain": [-1.32, 60.55], "nice": false, "zero": false, "padding": 0}, "axis": null}, "y": {"datum": 0.9395, "type": "quantitative", "scale": {"domain": [0.6307, 0.9592], "nice": false, "zero": false}, "axis": {"orient": "right", "values": [0.68,0.72,0.76,0.80,0.84,0.88,0.92], "format": ".2f", "grid": true, "ticks": false, "labelPadding": 3, "title": null}}, "text": {"value": "GMMA (3,5,8,10,12,15)"}}},
   {"data": {"values": [{}]}, "mark": {"type": "text", "fontSize": 10.5, "color": "#008800", "align": "left", "baseline": "middle"},
    "encoding": {"x": {"datum": -0.98, "type": "quantitative", "scale": {"domain": [-1.32, 60.55], "nice": false, "zero": false, "padding": 0}, "axis": null}, "y": {"datum": 0.9113, "type": "quantitative", "scale": {"domain": [0.6307, 0.9592], "nice": false, "zero": false}, "axis": {"orient": "right", "values": [0.68,0.72,0.76,0.80,0.84,0.88,0.92], "format": ".2f", "grid": true, "ticks": false, "labelPadding": 3, "title": null}}, "text": {"value": "GMMA (30,35,40,45,50,60)"}}}
  ]
 },
 {
  "width": 727, "height": 117,
  "resolve": {"axis": {"x": "independent"}},
  "layer": [
   {"data": {"name": "md"}, "transform": [{"window": [{"op": "lag", "field": "h", "as": "hp"}], "sort": [{"field": "i"}]}, {"filter": "isValid(datum.h)"}],
    "mark": {"type": "bar", "size": 7, "orient": "vertical"},
    "encoding": {
     "x": {"field": "i", "type": "quantitative", "scale": {"domain": [-1.32, 60.55], "nice": false, "zero": false, "padding": 0}, "axis": {"orient": "bottom", "values": [2.15,7.15,9.15,14.15,18.15,23.15,28.15,33.15,38.15,43.15,47.15,52.15,56.15], "labelExpr": "['22','29','5','12','19','26','3','10','17','24','31','8','14'][indexof([2,7,9,14,18,23,28,33,38,43,47,52,56], floor(datum.value))]", "grid": true, "ticks": true, "tickSize": 14, "labelAlign": "left", "labelBaseline": "top", "labelPadding": -10, "labelDx": 2, "domain": false, "title": null}},
     "y": {"field": "h", "type": "quantitative", "scale": {"domain": [-0.03358, 0.03416], "nice": false}, "axis": {"orient": "right", "values": [-0.022, 0, 0.022], "labelExpr": "datum.value > 0.01 ? '0.022' : (datum.value < -0.01 ? '-0.022' : '0')", "grid": true, "ticks": false, "labelPadding": 3, "title": null}},
     "color": {"condition": {"test": "datum.h >= datum.hp", "value": "#8bc77c"}, "value": "#e9a08d"}}},
   {"data": {"name": "md"}, "mark": {"type": "line", "color": "#0000ff", "strokeWidth": 1},
    "encoding": {
     "x": {"field": "i", "type": "quantitative", "scale": {"domain": [-1.32, 60.55], "nice": false, "zero": false, "padding": 0}, "axis": {"orient": "bottom", "values": [8.15, 28.15, 48.15], "labelExpr": "floor(datum.value) == 8 ? \"9月 '11\" : (floor(datum.value) == 28 ? '10月' : '11月')", "grid": false, "ticks": true, "tickSize": 29, "labelAlign": "left", "labelBaseline": "top", "labelPadding": -13, "labelDx": 2, "domain": false, "title": null}},
     "y": {"field": "m", "type": "quantitative", "scale": {"domain": [-0.03358, 0.03416], "nice": false}, "axis": {"orient": "right", "values": [-0.022, 0, 0.022], "labelExpr": "datum.value > 0.01 ? '0.022' : (datum.value < -0.01 ? '-0.022' : '0')", "grid": true, "ticks": false, "labelPadding": 3, "title": null}}}},
   {"data": {"name": "md"}, "mark": {"type": "line", "color": "#ff0000", "strokeWidth": 1},
    "encoding": {
     "x": {"field": "i", "type": "quantitative", "scale": {"domain": [-1.32, 60.55], "nice": false, "zero": false, "padding": 0}, "axis": null},
     "y": {"field": "s", "type": "quantitative", "scale": {"domain": [-0.03358, 0.03416], "nice": false}, "axis": {"orient": "right", "values": [-0.022, 0, 0.022], "labelExpr": "datum.value > 0.01 ? '0.022' : (datum.value < -0.01 ? '-0.022' : '0')", "grid": true, "ticks": false, "labelPadding": 3, "title": null}}}},
   {"data": {"values": [{}]}, "mark": {"type": "text", "fontSize": 10.5, "color": "#0000ff", "align": "left", "baseline": "middle"},
    "encoding": {"x": {"datum": -0.98, "type": "quantitative", "scale": {"domain": [-1.32, 60.55], "nice": false, "zero": false, "padding": 0}, "axis": null}, "y": {"datum": 0.0293, "type": "quantitative", "scale": {"domain": [-0.03358, 0.03416], "nice": false}, "axis": {"orient": "right", "values": [-0.022, 0, 0.022], "labelExpr": "datum.value > 0.01 ? '0.022' : (datum.value < -0.01 ? '-0.022' : '0')", "grid": true, "ticks": false, "labelPadding": 3, "title": null}}, "text": {"value": "MACD (26日,12日)"}}},
   {"data": {"values": [{}]}, "mark": {"type": "text", "fontSize": 10.5, "color": "#ff0000", "align": "left", "baseline": "middle"},
    "encoding": {"x": {"datum": -0.98, "type": "quantitative", "scale": {"domain": [-1.32, 60.55], "nice": false, "zero": false, "padding": 0}, "axis": null}, "y": {"datum": 0.0220, "type": "quantitative", "scale": {"domain": [-0.03358, 0.03416], "nice": false}, "axis": {"orient": "right", "values": [-0.022, 0, 0.022], "labelExpr": "datum.value > 0.01 ? '0.022' : (datum.value < -0.01 ? '-0.022' : '0')", "grid": true, "ticks": false, "labelPadding": 3, "title": null}}, "text": {"value": "信号 (9)"}}},
   {"data": {"values": [{}]}, "mark": {"type": "text", "fontSize": 10.5, "color": "#000000", "align": "left", "baseline": "middle"},
    "encoding": {"x": {"datum": -4.13, "type": "quantitative", "scale": {"domain": [-1.32, 60.55], "nice": false, "zero": false, "padding": 0}, "axis": null}, "y": {"datum": -0.0557, "type": "quantitative", "scale": {"domain": [-0.03358, 0.03416], "nice": false}, "axis": {"orient": "right", "values": [-0.022, 0, 0.022], "labelExpr": "datum.value > 0.01 ? '0.022' : (datum.value < -0.01 ? '-0.022' : '0')", "grid": true, "ticks": false, "labelPadding": 3, "title": null}}, "text": {"value": "Copyright © 2011 ChartNexus"}}},
   {"data": {"values": [{}]}, "mark": {"type": "text", "fontSize": 11, "color": "#000000", "align": "right", "baseline": "middle"},
    "encoding": {"x": {"datum": 63.53, "type": "quantitative", "scale": {"domain": [-1.32, 60.55], "nice": false, "zero": false, "padding": 0}, "axis": null}, "y": {"datum": -0.0557, "type": "quantitative", "scale": {"domain": [-0.03358, 0.03416], "nice": false}, "axis": {"orient": "right", "values": [-0.022, 0, 0.022], "labelExpr": "datum.value > 0.01 ? '0.022' : (datum.value < -0.01 ? '-0.022' : '0')", "grid": true, "ticks": false, "labelPadding": 3, "title": null}}, "text": {"value": "Powered by www.chartnexus.com"}}}
  ]
 }
]
}
